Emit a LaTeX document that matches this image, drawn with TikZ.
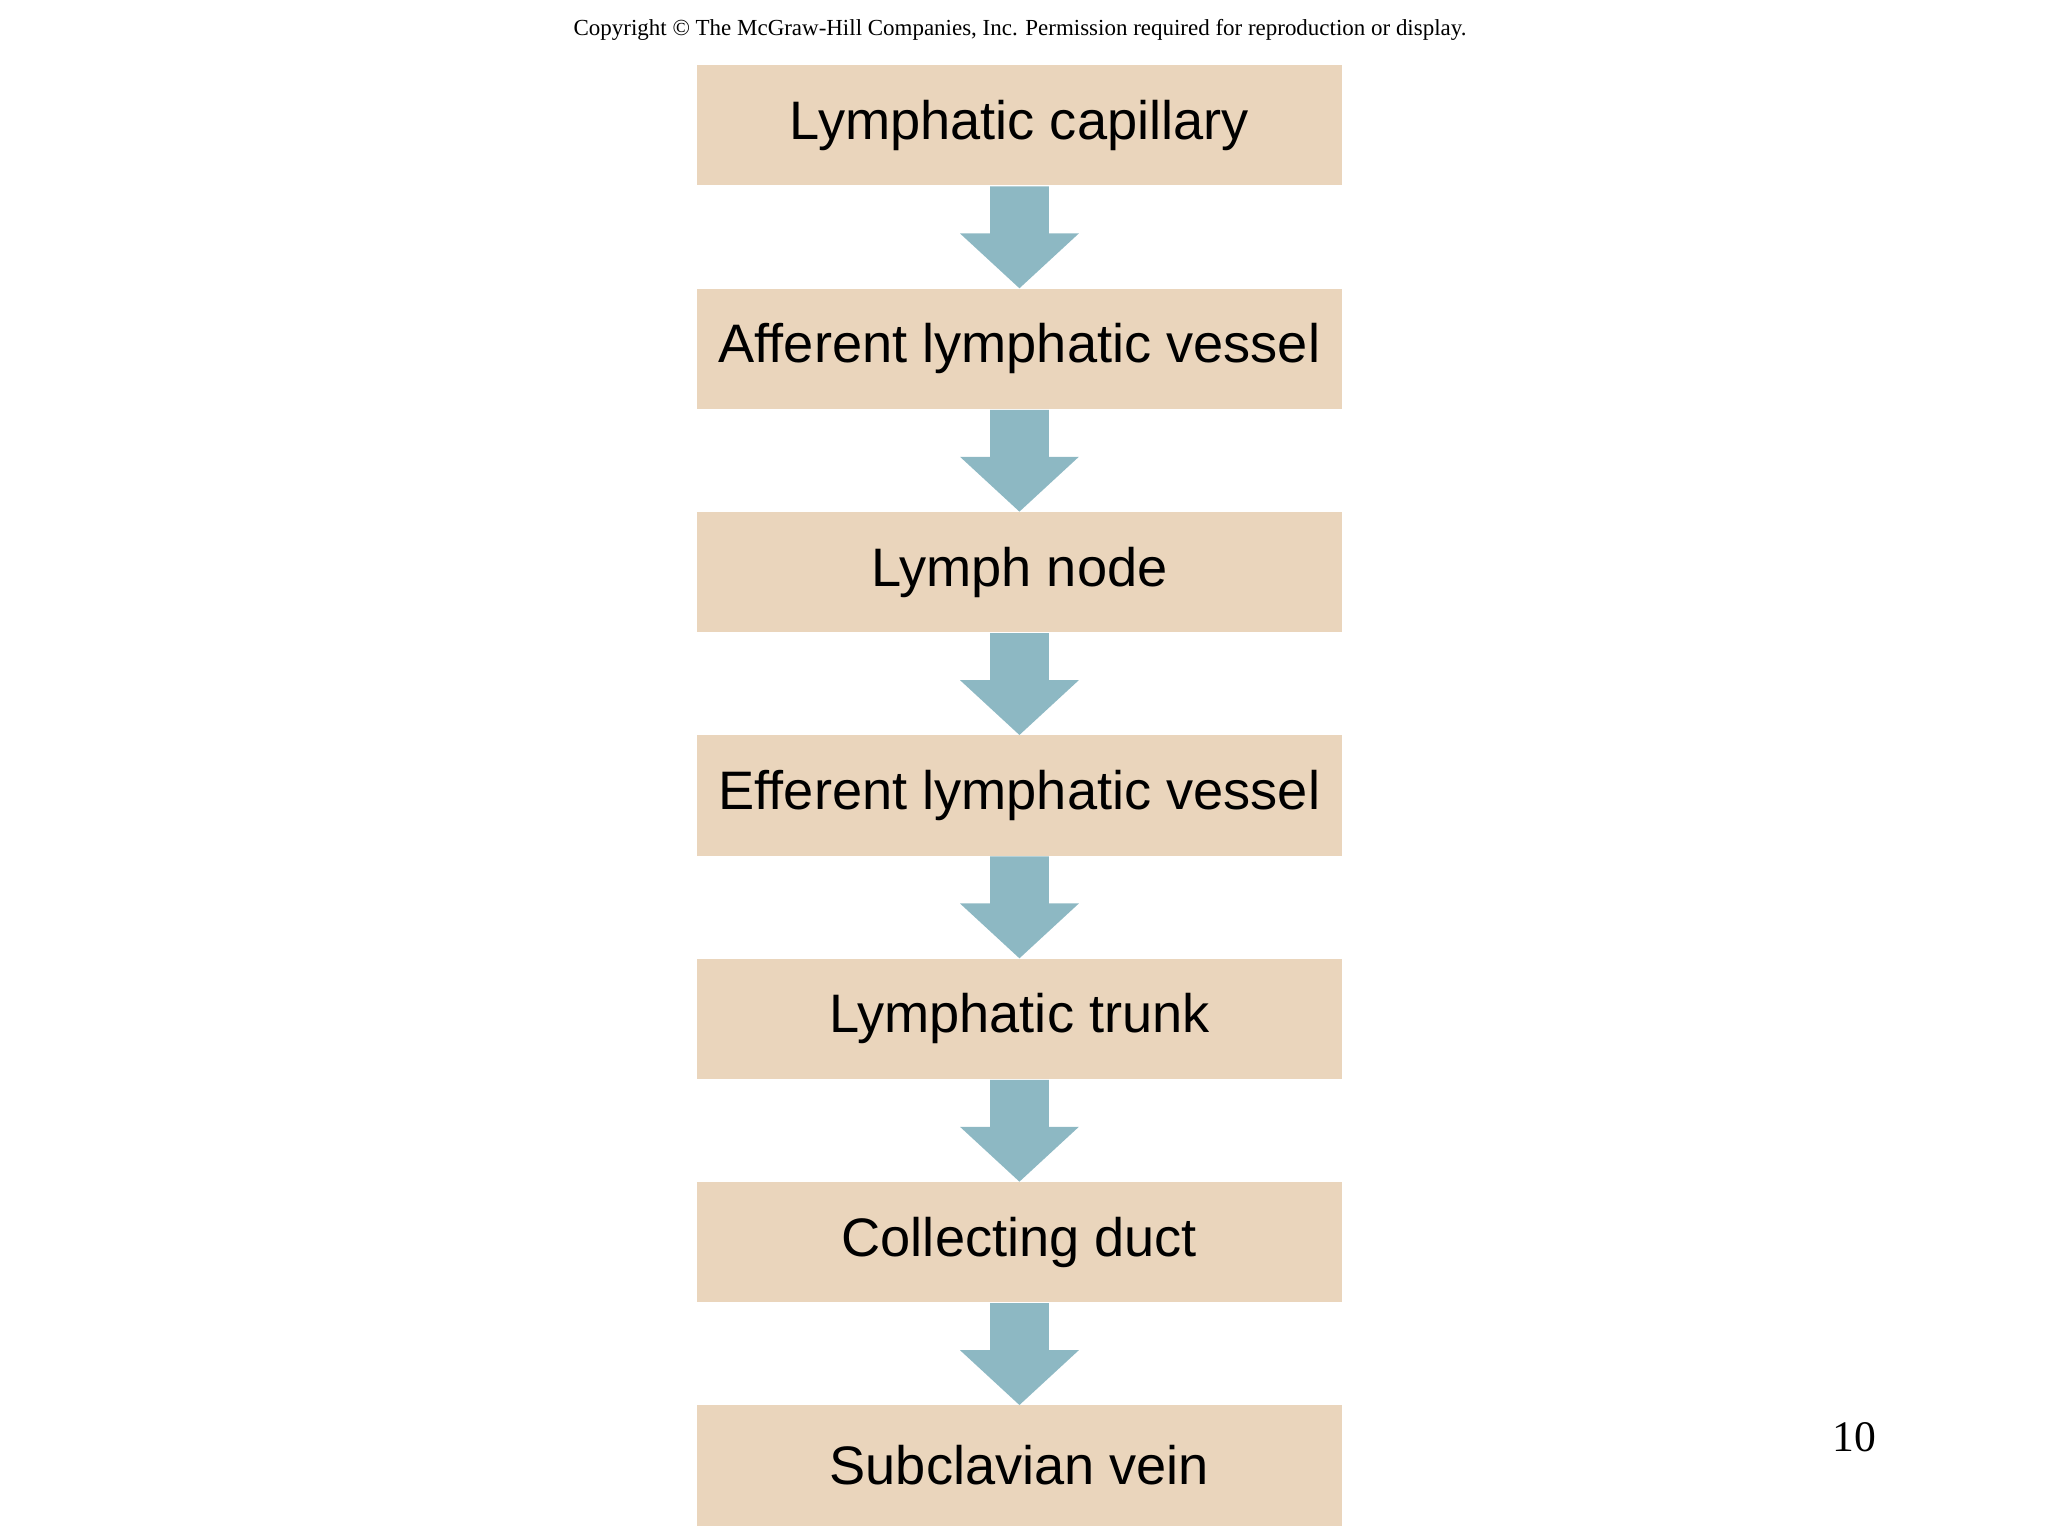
\documentclass[tikz,border=0pt]{standalone}
\usepackage{fontspec}
\setmainfont{Liberation Serif}
\newfontfamily\arialf{Liberation Sans}
\definecolor{boxc}{HTML}{EAD5BC}
\definecolor{arrc}{HTML}{8DB8C3}
\tikzset{stepbox/.style={fill=boxc,draw=none,minimum width=4.93cm,minimum height=0.92cm,inner sep=0pt,font=\arialf\fontsize{11.8pt}{13pt}\selectfont},
flowarrow/.style={fill=arrc,draw=none}}
\begin{document}
\begin{tikzpicture}[x=0.01cm,y=-0.01cm]
\useasboundingbox (0,0) rectangle (1568,1176);
\node[font=\fontsize{5pt}{6pt}\selectfont] (cr) at (781,23) {Copyright \textcopyright{} The McGraw-Hill Companies, Inc. Permission required for reproduction or display.};
\node[font=\fontsize{9.5pt}{11pt}\selectfont] (pg) at (1420,1100) {10};
\foreach \i/\t in {0/Lymphatic capillary,1/Afferent lymphatic vessel,2/Lymph node,3/Efferent lymphatic vessel,4/Lymphatic trunk,5/Collecting duct,6/Subclavian vein}{
  \node[stepbox] (b\i) at (780.5,{96+171*\i}) {\t};
}
\foreach \i in {0,...,5}{
  \path[flowarrow] ([xshift=-20\pgflinewidth*0]b\i.south) ++(-22.5,0) coordinate (s\i);
  \fill[arrc] (b\i.south) ++(-22.5,0) -- ++(45,0) -- ++(0,36) -- ++(23,0) -- ++(-45.5,42) -- ++(-45.5,-42) -- ++(23,0) -- cycle;
}
\end{tikzpicture}
\end{document}
